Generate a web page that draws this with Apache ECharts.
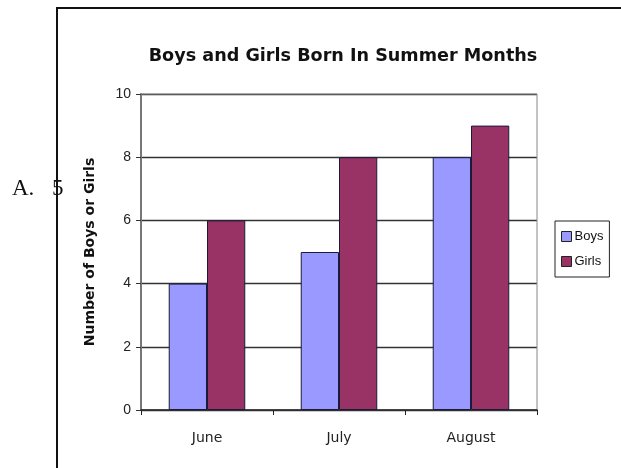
<!DOCTYPE html>
<html><head><meta charset="utf-8">
<script src="https://cdn.jsdelivr.net/npm/echarts@6/dist/echarts.min.js"></script>
<style>
html,body{margin:0;padding:0;background:#fff;}
#wrap{position:relative;width:621px;height:468px;overflow:hidden;}
#frame{position:absolute;left:56px;top:7px;width:600px;height:500px;border-left:2px solid #111;border-top:2px solid #111;}
#chart{position:absolute;left:0;top:0;width:621px;height:468px;}
.lbl{position:absolute;top:175px;font-family:"Liberation Serif","DejaVu Serif",serif;font-size:23px;color:#111;z-index:5;}
</style></head>
<body><div id="wrap"><div id="frame"></div><div id="chart"></div><div class="lbl" style="left:12px">A.</div><div class="lbl" style="left:52px">5</div></div>
<script>
const categories = ["June", "July", "August"];
const boys = [4, 5, 8];
const girls = [6, 8, 9];
const yTicks = [0, 2, 4, 6, 8, 10];

const chart = echarts.init(document.getElementById('chart'));
chart.setOption({
  animation: false,
  title: {
    text: 'Boys and Girls Born In Summer Months',
    left: 343, top: 42, textAlign: 'center',
    textStyle: {fontFamily: 'DejaVu Sans, sans-serif', fontSize: 17.6, fontWeight: 'bold', color: '#111'}
  },
  legend: {
    orient: 'vertical', left: 555, top: 221,
    data: ['Boys', 'Girls'],
    borderColor: '#222', borderWidth: 1, padding: [9, 6, 9, 6], itemGap: 12,
    itemWidth: 10, itemHeight: 10, icon: 'rect',
    itemStyle: {borderColor: '#222', borderWidth: 1},
    textStyle: {fontFamily: 'Liberation Sans, Arial, sans-serif', fontSize: 13, color: '#111', padding: [0,0,0,-2]}
  },
  grid: {left: 141, right: 84, top: 94, bottom: 58},
  xAxis: {
    type: 'category', data: categories,
    axisLine: {lineStyle: {color: '#222', width: 1.5}},
    axisTick: {show: true, length: 5, lineStyle: {color: '#222'}},
    axisLabel: {margin: 21, fontFamily: 'DejaVu Sans, sans-serif', fontSize: 14, color: '#222'},
    splitLine: {show: false}
  },
  yAxis: {
    type: 'value', min: yTicks[0], max: yTicks[yTicks.length-1], interval: 2,
    name: 'Number of Boys or Girls', nameLocation: 'middle', nameGap: 44,
    nameTextStyle: {fontFamily: 'DejaVu Sans, sans-serif', fontSize: 14, fontWeight: 'bold', color: '#111'},
    axisLine: {show: true, lineStyle: {color: '#777', width: 2}},
    axisTick: {show: true, length: 5, lineStyle: {color: '#333'}},
    axisLabel: {margin: 10, fontFamily: 'Liberation Sans, Arial, sans-serif', fontSize: 14, color: '#222'},
    splitLine: {show: true, lineStyle: {color: '#333', width: 1.3}}
  },
  series: [
    {name: 'Boys', type: 'bar', data: boys, barGap: '0%', barCategoryGap: '42%',
     itemStyle: {color: '#9999FF', borderColor: '#1a1a3a', borderWidth: 1}},
    {name: 'Girls', type: 'bar', data: girls, barGap: '0%', barCategoryGap: '42%',
     itemStyle: {color: '#993366', borderColor: '#1a1a3a', borderWidth: 1}}
  ]
});
const g = chart.getModel().getComponent('grid').coordinateSystem.getRect();
chart.setOption({title: {left: 338}, graphic: [{
  type: 'rect', shape: {x: g.x, y: g.y, width: g.width, height: g.height}, silent: true, z: 0,
  style: {fill: 'none', stroke: '#888', lineWidth: 1}
}]});
</script></body></html>
